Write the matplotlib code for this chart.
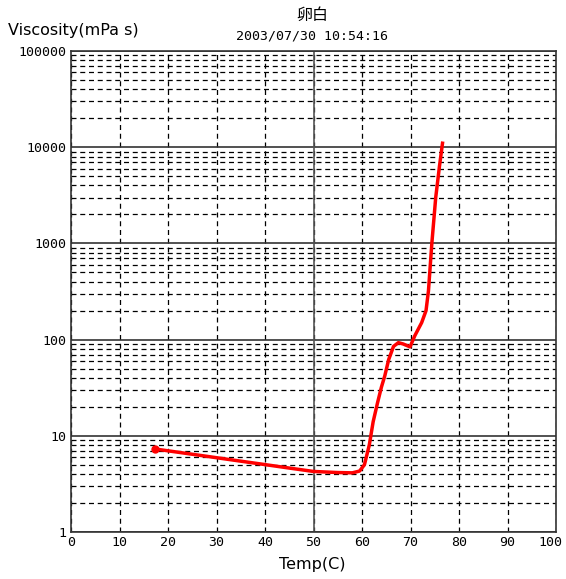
import numpy as np
import matplotlib.pyplot as plt
import matplotlib.transforms as mtransforms
from matplotlib.ticker import LogLocator, NullFormatter

temp = [17.3, 20, 25, 30, 35, 40, 45, 50, 55, 58, 59.5, 60.5, 61.5, 62.3, 63.2,
        64, 64.7, 65.5, 66.5, 67.5, 68.5, 69.9, 70.9, 72.3, 73.2, 73.7, 74.4,
        75.2, 76, 76.6]
visc = [7.3, 6.98, 6.43, 5.92, 5.45, 5.02, 4.62, 4.26, 4.15, 4.12, 4.3, 5.0, 8.0,
        14, 22, 32, 42, 62, 85, 93, 90, 84, 110, 150, 200, 320, 1000,
        3000, 6500, 11000]

xticks = [0, 10, 20, 30, 40, 50, 60, 70, 80, 90, 100]
yticks = [1, 10, 100, 1000, 10000, 100000]
ylabels = ["1", "10", "100", "1000", "10000", "100000"]

title = "卵白"
stamp = "2003/07/30 10:54:16"

plt.rcParams['font.family'] = ['DejaVu Sans', 'Noto Sans CJK JP']

fig = plt.figure(figsize=(5.66, 5.79), dpi=100)
ax = fig.add_axes([71/566, 1-532/579, (556-71)/566, (532-51)/579])

ax.set_xlim(0, 100)
ax.set_yscale('log')
ax.set_ylim(1, 100000)

ax.set_xticks(xticks)
ax.set_xticklabels([str(v) for v in xticks], fontsize=9.5, family='DejaVu Sans Mono')
ax.set_yticks(yticks)
ax.set_yticklabels(ylabels, fontsize=9.5, family='DejaVu Sans Mono')
ax.yaxis.set_minor_locator(LogLocator(base=10, subs=np.arange(2, 10)))
ax.yaxis.set_minor_formatter(NullFormatter())
ax.tick_params(which='both', length=0, pad=3)

# 右端の「100」は枠内に収める
last = ax.get_xticklabels()[-1]
last.set_transform(last.get_transform() +
                   mtransforms.ScaledTranslation(-6/100, 0, fig.dpi_scale_trans))

# グリッド
dash = (0, (4, 3))
ax.grid(which='major', axis='x', color='black', lw=0.9, ls=dash)
ax.grid(which='minor', axis='y', color='black', lw=0.9, ls=dash)
ax.grid(which='major', axis='y', color='#333333', lw=1.2, ls='-')
ax.axvline(50, color='#555555', lw=1.2, zorder=1)
ax.set_axisbelow(True)

for s in ax.spines.values():
    s.set_color('#333333')
    s.set_linewidth(1.2)

ax.plot(temp, visc, color='red', lw=2.5, zorder=3)
ax.plot(temp[0], visc[0], 'o', color='red', ms=5, zorder=4)

fig.text(8/566, 1-30/579, "Viscosity(mPa s)", fontsize=11.5, va='center', ha='left')
fig.text(312/566, 1-15/579, title, fontsize=11.5, ha='center', va='center',
         family=['Noto Sans CJK JP', 'DejaVu Sans'])
fig.text(312/566, 1-36/579, stamp, fontsize=9.5, ha='center', va='center',
         family='DejaVu Sans Mono')
fig.text(312/566, 1-565/579, "Temp(C)", fontsize=11.5, ha='center', va='center')

fig.savefig("out.png", dpi=100)
